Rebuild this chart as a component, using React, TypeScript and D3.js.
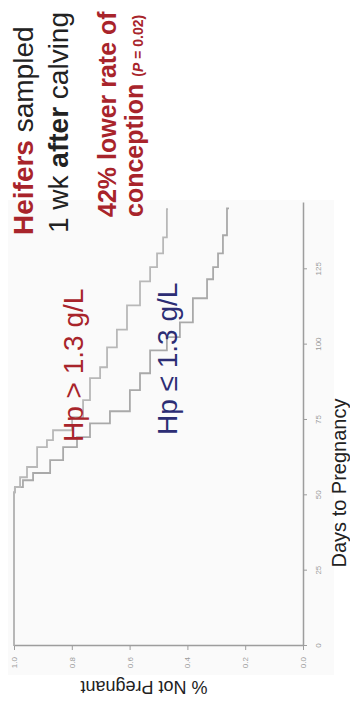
import { useEffect, useRef } from 'react';
import * as d3 from 'd3';

// Kaplan-Meier style curves (days, proportion not pregnant)
const hpHighDays = [0, 51, 52.7, 56, 59.4, 66, 68.3, 71.6, 75.9, 81.6, 88.9, 92.5, 99.1, 105, 113, 121, 125.7, 130.3, 135.6, 145];
const hpHighSurv = [1.0, 0.997, 0.979, 0.955, 0.92, 0.886, 0.865, 0.799, 0.761, 0.737, 0.702, 0.678, 0.644, 0.609, 0.564, 0.529, 0.505, 0.484, 0.471, 0.467];

const hpLowDays = [0, 51, 52.7, 55, 57.4, 61.7, 66, 69.3, 73.9, 77.9, 84.9, 90.5, 98.1, 102.5, 107.4, 115.4, 121.7, 125.7, 130.3, 136.3, 145.2];
const hpLowSurv = [1.0, 0.997, 0.969, 0.934, 0.875, 0.83, 0.782, 0.737, 0.668, 0.599, 0.564, 0.529, 0.471, 0.426, 0.381, 0.332, 0.311, 0.294, 0.277, 0.263, 0.256];

const dayTicks = [0, 25, 50, 75, 100, 125];
const propTicks = [0, 0.2, 0.4, 0.6, 0.8, 1.0];

const RED = '#a8242b';
const NAVY = '#2c2d74';
const FONT = 'Liberation Sans, Arial, Helvetica, sans-serif';

function KMChart() {
  const svgRef = useRef<SVGSVGElement>(null);

  useEffect(() => {
    if (!svgRef.current) return;
    const svg = d3.select(svgRef.current);
    svg.selectAll('*').remove();

    const ox = 303, oy = 646;
    const x = d3.scaleLinear().domain([0, 147]).range([0, 443]);
    const y = d3.scaleLinear().domain([0, 1]).range([0, -289]);

    svg.append('rect').attr('x', 8).attr('y', 200).attr('width', 326).attr('height', 475).attr('fill', '#fafafa');

    // chart drawn in its original orientation, then turned a quarter left
    const g = svg.append('g').attr('transform', `translate(${ox},${oy}) rotate(-90)`);

    const line = d3.line<[number, number]>().x(d => x(d[0])).y(d => y(d[1])).curve(d3.curveStepAfter);
    const high = hpHighDays.map((d, i) => [d, hpHighSurv[i]] as [number, number]);
    const low = hpLowDays.map((d, i) => [d, hpLowSurv[i]] as [number, number]);

    g.append('path').datum(low).attr('fill', 'none').attr('stroke', '#a9a9a9').attr('stroke-width', 1.8).attr('d', line);
    g.append('path').datum(high).attr('fill', 'none').attr('stroke', '#b8b8b8').attr('stroke-width', 1.8).attr('d', line);

    g.append('g')
      .call(d3.axisBottom(x).tickValues(dayTicks).tickSize(4).tickPadding(8).tickSizeOuter(0))
      .call(s => s.select('.domain').attr('stroke', '#9d9d9d').attr('stroke-width', 1.5))
      .call(s => s.selectAll('.tick line').attr('stroke', '#9d9d9d'))
      .call(s => s.selectAll('text').attr('fill', '#9a9a9a').attr('font-size', 8).attr('font-family', FONT));

    g.append('g')
      .call(d3.axisLeft(y).tickValues(propTicks).tickFormat(d3.format('.1f')).tickSize(4).tickPadding(7).tickSizeOuter(0))
      .call(s => s.select('.domain').attr('stroke', '#9d9d9d').attr('stroke-width', 1.5))
      .call(s => s.selectAll('.tick line').attr('stroke', '#9d9d9d'))
      .call(s => s.selectAll('text').attr('fill', '#9a9a9a').attr('font-size', 8).attr('font-family', FONT));
  }, []);

  return (
    <svg width={350} height={707} style={{ position: 'absolute', left: 0, top: 0, background: '#fff' }}>
      <g ref={svgRef} />
      <g fontFamily={FONT}>
        <text transform="translate(346,483) rotate(-90)" textAnchor="middle" fontSize={20} fill="#222">Days to Pregnancy</text>
        <text transform="translate(144,681) rotate(180)" textAnchor="middle" fontSize={18} fill="#222">% Not Pregnant</text>

        <text transform="translate(33,235) rotate(-90)" fontSize={28} fill="#222">
          <tspan fill={RED} fontWeight="bold">Heifers</tspan> sampled
        </text>
        <text transform="translate(68,233) rotate(-90)" fontSize={28} fill="#222">
          1 wk <tspan fontWeight="bold">after</tspan> calving
        </text>
        <text transform="translate(116,217) rotate(-90)" fontSize={25} fontWeight="bold" fill={RED}>42% lower rate of</text>
        <text transform="translate(143,217) rotate(-90)" fontSize={25} fontWeight="bold" fill={RED}>
          conception <tspan fontSize={14}>(<tspan fontStyle="italic">P</tspan> = 0.02)</tspan>
        </text>

        <text transform="translate(83,442) rotate(-90)" fontSize={28} fill={RED}>Hp &gt; 1.3 g/L</text>
        <text transform="translate(177,435) rotate(-90)" fontSize={28} fill={NAVY}>Hp ≤ 1.3 g/L</text>
      </g>
    </svg>
  );
}

export default function App() {
  return <KMChart />;
}
